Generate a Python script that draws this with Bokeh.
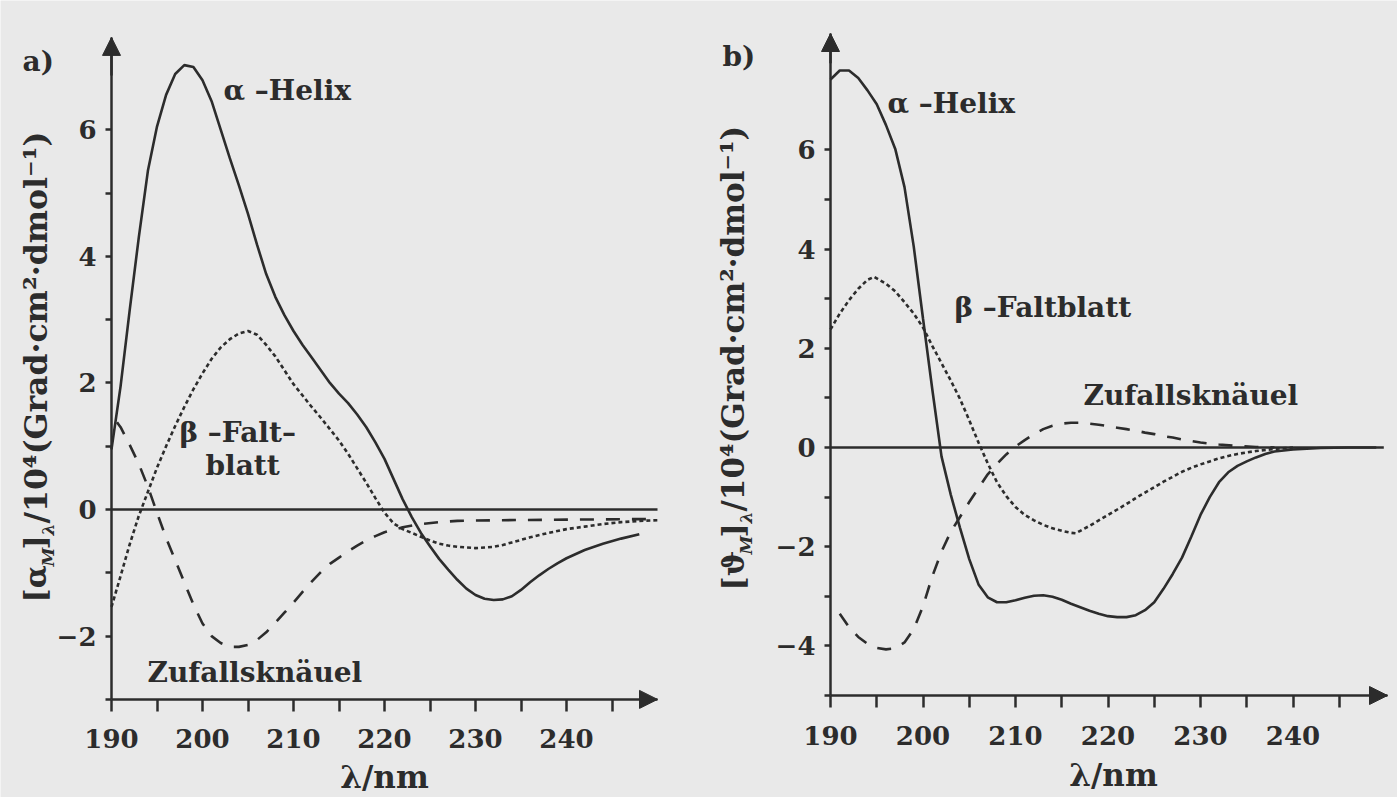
import numpy as np
from bokeh.plotting import figure
from bokeh.models import FixedTicker, Arrow, NormalHead, Label, LinearAxis, Range1d
from bokeh.embed import file_html
from bokeh.resources import INLINE

# ---------------- data ----------------
# panel a: optical rotatory dispersion [alpha_M]_lambda / 10^4
a_helix_nm = [190, 191, 192, 193, 194, 195, 196, 197, 198, 199, 200, 201, 202, 203, 204, 205,
              206, 207, 208, 209, 210, 211, 212, 213, 214, 215, 216, 217, 218, 219, 220, 221,
              222, 223, 224, 225, 226, 227, 228, 229, 230, 231, 232, 233, 234, 235, 236, 237,
              238, 239, 240, 242, 244, 246, 248]
a_helix_val = [0.95, 1.95, 3.15, 4.3, 5.35, 6.05, 6.55, 6.88, 7.02, 6.99, 6.78, 6.45, 6.0, 5.55,
               5.12, 4.67, 4.18, 3.72, 3.36, 3.07, 2.82, 2.6, 2.4, 2.2, 2.0, 1.83, 1.68, 1.5,
               1.3, 1.06, 0.8, 0.48, 0.16, -0.12, -0.37, -0.58, -0.78, -0.95, -1.11, -1.25,
               -1.35, -1.41, -1.43, -1.42, -1.37, -1.27, -1.15, -1.04, -0.94, -0.85, -0.77,
               -0.64, -0.54, -0.46, -0.39]

a_beta_nm = [190, 191, 192, 193, 194, 195, 196, 197, 198, 199, 200, 201, 202, 203, 204, 205,
             206, 207, 208, 209, 210, 211, 212, 213, 214, 215, 216, 217, 218, 219, 220, 221,
             222, 223, 224, 225, 226, 227, 228, 229, 230, 231, 232, 233, 234, 235, 236, 238,
             240, 242, 244, 246, 248, 250]
a_beta_val = [-1.54, -1.05, -0.55, -0.1, 0.28, 0.66, 1.0, 1.32, 1.62, 1.9, 2.15, 2.38, 2.56, 2.69,
              2.78, 2.82, 2.76, 2.6, 2.42, 2.2, 1.98, 1.8, 1.62, 1.45, 1.27, 1.09, 0.88, 0.65,
              0.42, 0.18, -0.05, -0.22, -0.31, -0.37, -0.43, -0.49, -0.54, -0.57, -0.59, -0.6,
              -0.61, -0.6, -0.59, -0.56, -0.52, -0.48, -0.44, -0.37, -0.31, -0.27, -0.23, -0.2,
              -0.18, -0.17]

a_coil_nm = [190.6, 191, 192, 193, 194, 195, 196, 197, 198, 199, 200, 201, 202, 203, 204, 205,
             206, 207, 208, 209, 210, 211, 212, 213, 214, 215, 216, 217, 218, 219, 220, 221,
             222, 224, 226, 228, 232, 240, 250]
a_coil_val = [1.38, 1.3, 1.02, 0.72, 0.36, -0.05, -0.45, -0.8, -1.15, -1.5, -1.8, -2.0, -2.11,
              -2.17, -2.17, -2.14, -2.06, -1.94, -1.79, -1.63, -1.47, -1.3, -1.14, -0.99, -0.86,
              -0.76, -0.66, -0.57, -0.49, -0.42, -0.36, -0.32, -0.28, -0.23, -0.2, -0.18, -0.17,
              -0.16, -0.15]

# panel b: circular dichroism [theta_M]_lambda / 10^4
b_helix_nm = [190, 191, 192, 193, 194, 195, 196, 197, 198, 199, 200, 201, 202, 203, 204, 205,
              206, 207, 208, 209, 210, 211, 212, 213, 214, 215, 216, 217, 218, 219, 220, 221,
              222, 223, 224, 225, 226, 227, 228, 229, 230, 231, 232, 233, 234, 235, 236, 237,
              238, 240, 243, 246, 249]
b_helix_val = [7.42, 7.6, 7.6, 7.45, 7.2, 6.92, 6.5, 6.02, 5.25, 4.05, 2.6, 1.18, -0.18, -0.95,
               -1.62, -2.25, -2.76, -3.02, -3.12, -3.12, -3.08, -3.03, -2.99, -2.98, -3.01,
               -3.07, -3.15, -3.22, -3.29, -3.35, -3.4, -3.42, -3.42, -3.38, -3.28, -3.12, -2.85,
               -2.55, -2.22, -1.8, -1.36, -1.0, -0.7, -0.5, -0.37, -0.28, -0.2, -0.13, -0.08,
               -0.04, -0.01, 0.0, 0.0]

b_beta_nm = [190, 191, 192, 193, 194, 194.7, 196, 197, 198, 199, 200, 201, 202, 203, 204, 205,
             206, 207, 208, 209, 210, 211, 212, 213, 214, 215, 216, 216.5, 217, 218, 219, 220,
             221, 222, 223, 224, 225, 226, 227, 228, 229, 230, 231, 232, 233, 234, 235, 236,
             238, 240]
b_beta_val = [2.38, 2.7, 2.97, 3.2, 3.38, 3.44, 3.3, 3.15, 2.93, 2.7, 2.42, 2.05, 1.7, 1.35, 0.98,
              0.55, 0.1, -0.32, -0.7, -0.98, -1.2, -1.36, -1.47, -1.56, -1.63, -1.68, -1.72,
              -1.73, -1.68, -1.58, -1.47, -1.36, -1.25, -1.14, -1.02, -0.91, -0.8, -0.69, -0.59,
              -0.49, -0.41, -0.34, -0.28, -0.22, -0.17, -0.13, -0.1, -0.07, -0.03, 0.0]

b_coil_nm = [191, 192, 193, 194, 195, 196, 197, 198, 199, 200, 201, 202, 203, 204, 205, 206,
             207, 208, 209, 210, 211, 212, 213, 214, 215, 216, 217, 218, 219, 220, 221, 222,
             223, 224, 225, 226, 227, 228, 229, 230, 232, 234, 236, 238]
b_coil_val = [-3.35, -3.62, -3.82, -3.96, -4.04, -4.07, -4.05, -3.93, -3.66, -3.2, -2.6, -2.1,
              -1.7, -1.4, -1.1, -0.82, -0.54, -0.33, -0.14, 0.02, 0.15, 0.27, 0.37, 0.44, 0.48,
              0.5, 0.5, 0.48, 0.46, 0.43, 0.4, 0.37, 0.34, 0.3, 0.27, 0.23, 0.2, 0.16, 0.13,
              0.1, 0.06, 0.03, 0.01, 0.0]

x_ticks = [190, 195, 200, 205, 210, 215, 220, 225, 230, 235, 240, 245]
x_tick_labels = {190: "190", 195: "", 200: "200", 205: "", 210: "210", 215: "", 220: "220",
                 225: "", 230: "230", 235: "", 240: "240", 245: ""}
a_y_ticks = [-3, -2, -1, 0, 1, 2, 3, 4, 5, 6]
a_y_tick_labels = {-3: "", -2: "\u22122", -1: "", 0: "0", 1: "", 2: "2", 3: "", 4: "4", 5: "", 6: "6"}
b_y_ticks = [-5, -4, -3, -2, -1, 0, 1, 2, 3, 4, 5, 6]
b_y_tick_labels = {-5: "", -4: "\u22124", -3: "", -2: "\u22122", -1: "", 0: "0", 1: "", 2: "2",
                   3: "", 4: "4", 5: "", 6: "6"}

# ---------------- style ----------------
INK = "#2c2c2c"
BG = "#e9e9e9"
FONT = "DejaVu Serif"
W, H = 1397, 797


class Panel:
    """pixel geometry of one panel: page position of its origin and pixels per unit"""

    def __init__(self, x0_px, px_per_nm, y0_px, px_per_unit, x_end, y_start, y_end):
        self.x0_px, self.px_nm = x0_px, px_per_nm
        self.y0_px, self.px_u = y0_px, px_per_unit
        self.x_end, self.y_start, self.y_end = x_end, y_start, y_end

    def conv(self, px, py):
        return 190 + (px - self.x0_px) / self.px_nm, (self.y0_px - py) / self.px_u

    def x_range(self):
        return Range1d(self.conv(0, 0)[0], self.conv(W, 0)[0])

    def y_range(self):
        return Range1d(self.conv(0, H)[1], self.conv(0, 0)[1])


ga = Panel(x0_px=111, px_per_nm=9.1, y0_px=509, px_per_unit=63.3,
           x_end=190 + 546 / 9.1, y_start=-3.0, y_end=-3.0 + 662 / 63.3)
gb = Panel(x0_px=830, px_per_nm=9.25, y0_px=447, px_per_unit=49.6,
           x_end=190 + 557 / 9.25, y_start=-5.0, y_end=-5.0 + 662 / 49.6)

p = figure(width=W, height=H, min_border=0,
           min_border_left=0, min_border_right=0, min_border_top=0, min_border_bottom=0,
           x_range=ga.x_range(), y_range=ga.y_range(),
           output_backend="svg", toolbar_location=None,
           background_fill_color=BG, border_fill_color=BG, outline_line_color=None)
p.extra_x_ranges = {"bx": gb.x_range()}
p.extra_y_ranges = {"by": gb.y_range()}
p.grid.visible = False

bx_axis = LinearAxis(x_range_name="bx", y_range_name="by")
by_axis = LinearAxis(x_range_name="bx", y_range_name="by")
p.add_layout(bx_axis, "below")
p.add_layout(by_axis, "left")


def style_axes(xax, yax, g, y_ticks, y_labels):
    for ax in (xax, yax):
        ax.axis_line_color = INK
        ax.axis_line_width = 2.5
        ax.major_tick_line_color = INK
        ax.major_tick_line_width = 2.5
        ax.major_tick_in = 0
        ax.minor_tick_line_color = None
        ax.major_label_text_font = FONT
        ax.major_label_text_font_size = "26px"
        ax.major_label_text_font_style = "bold"
        ax.major_label_text_color = INK
    xax.fixed_location = g.y_start
    xax.bounds = (190, g.x_end)
    xax.ticker = FixedTicker(ticks=x_ticks)
    xax.major_label_overrides = x_tick_labels
    xax.major_tick_out = 12
    xax.major_label_standoff = 18
    yax.fixed_location = 190
    yax.bounds = (g.y_start, g.y_end)
    yax.ticker = FixedTicker(ticks=y_ticks)
    yax.major_label_overrides = y_labels
    yax.major_tick_out = 6
    yax.major_label_standoff = 9


style_axes(p.xaxis[0], p.yaxis[0], ga, a_y_ticks, a_y_tick_labels)
style_axes(bx_axis, by_axis, gb, b_y_ticks, b_y_tick_labels)


def arrows(g, **rng):
    head = dict(size=18, fill_color=INK, line_color=INK, line_width=1)
    p.add_layout(Arrow(end=NormalHead(**head), x_start=190, y_start=g.y_end - 0.6,
                       x_end=190, y_end=g.y_end, line_color=INK, line_width=2.5, **rng))
    p.add_layout(Arrow(end=NormalHead(**head), x_start=g.x_end - 1.5, y_start=g.y_start,
                       x_end=g.x_end, y_end=g.y_start, line_color=INK, line_width=2.5, **rng))


def curves(helix, beta, coil, zero_end, **rng):
    p.line([190, zero_end], [0, 0], line_color=INK, line_width=2.5, **rng)
    p.line(helix[0], helix[1], line_color=INK, line_width=2.6, **rng)
    p.line(beta[0], beta[1], line_color=INK, line_width=2.6, line_dash="4 3", **rng)
    p.line(coil[0], coil[1], line_color=INK, line_width=2.6, line_dash="14 12", **rng)


arrows(ga)
arrows(gb, x_range_name="bx", y_range_name="by")
curves((a_helix_nm, a_helix_val), (a_beta_nm, a_beta_val), (a_coil_nm, a_coil_val), ga.x_end)
curves((b_helix_nm, b_helix_val), (b_beta_nm, b_beta_val), (b_coil_nm, b_coil_val),
       gb.x_end - 0.4, x_range_name="bx", y_range_name="by")

SHIFT = 0.36  # renderer draws the alphabetic baseline about this fraction of the size lower


def label(px, py, text, size, angle=0.0, style="bold", align="left"):
    if angle == 0.0:
        py -= SHIFT * size
    else:
        px -= SHIFT * size
    x, y = ga.conv(px, py)
    p.add_layout(Label(x=x, y=y, text=text, text_font=FONT, text_font_size=f"{size}px",
                       text_font_style=style, text_color=INK, text_align=align,
                       text_baseline="alphabetic", angle=angle))


def ylabel(xb, y0, greek, size):
    # rotated axis title built from pieces (reading bottom -> top)
    r = np.pi / 2
    y = y0
    label(xb, y, "[" + greek, 30, r)
    y -= 36
    label(xb + 8, y, "M", 17, r, "bold italic")
    y -= 17
    label(xb, y, "]", 30, r)
    y -= 14
    label(xb + 8, y, "\u03bb", 17, r, "bold italic")
    y -= 12
    label(xb, y, "/10\u2074(Grad\u00b7cm\u00b2\u00b7dmol\u207b\u00b9)", size, r)


# panel a texts
label(22, 71, "a)", 28)
label(223, 100, "\u03b1 \u2013Helix", 28)
label(179, 442, "\u03b2 \u2013Falt\u2013", 28)
label(205, 475, "blatt", 28)
label(147, 682, "Zufallskn\u00e4uel", 28)
label(384, 788, "\u03bb/nm", 31, align="center")
ylabel(46, 602, "\u03b1", 31.5)

# panel b texts
label(722, 66, "b)", 28)
label(887, 113, "\u03b1 \u2013Helix", 28)
label(954, 317, "\u03b2 \u2013Faltblatt", 28)
label(1083, 405, "Zufallskn\u00e4uel", 28)
label(1113, 786, "\u03bb/nm", 31, align="center")
ylabel(744, 590, "\u03d1", 31)

open("out.html", "w").write(file_html(p, INLINE))
